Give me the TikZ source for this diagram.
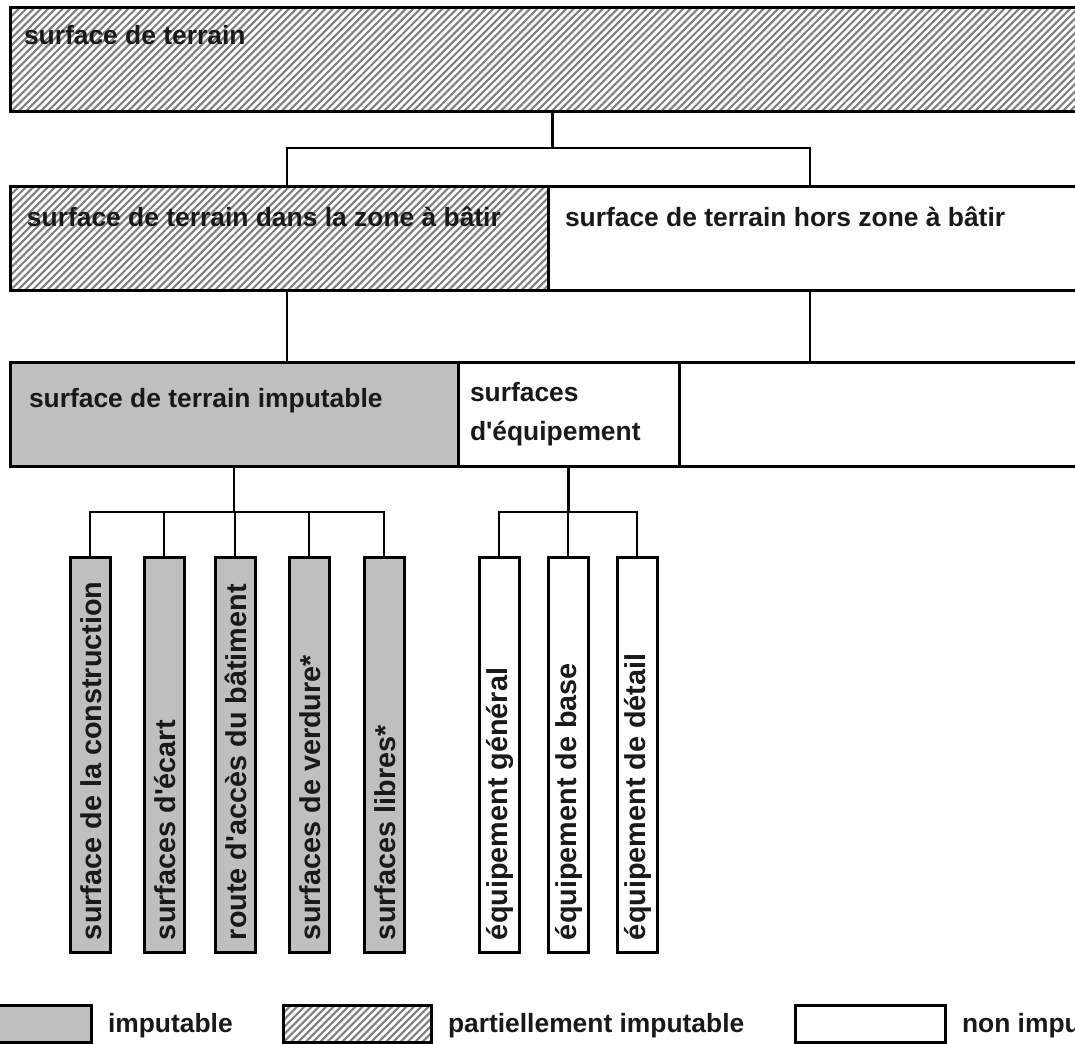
\documentclass[tikz,border=0pt]{standalone}
\usepackage{fontspec}
\setmainfont{Liberation Sans}[Ligatures=TeXOff]
\begin{document}
\begin{tikzpicture}[x=1pt,y=-1pt,
  box/.style={draw=black, line width=3pt, rectangle, inner sep=0pt, outer sep=0pt, anchor=north west},
  grayfill/.style={fill=gray!50},
  hatchline/.style={draw=black!50, line width=2.1pt},
  hatched/.style={fill=white, path picture={
      \foreach \k in {0,...,200}
        \draw[hatchline] ([xshift=\k*7.3pt-160pt]path picture bounding box.south west) -- ++(170pt,170pt);
  }},
  conn/.style={line width=2.3pt, line cap=rect},
  lbl/.style={font=\bfseries\fontsize{26.4}{39}\selectfont, inner sep=0pt, outer sep=0pt, text=black!90},
  vlbl/.style={font=\bfseries\fontsize{28.8}{34}\selectfont, inner sep=0pt, outer sep=0pt, text=black!90},
]
\useasboundingbox (0,0) rectangle (1075,1043);
\clip (0,0) rectangle (1075,1043);
\fill[white] (0,0) rectangle (1075,1043);

% level 1
\node[box, hatched, minimum width=1085pt, minimum height=104pt] (top) at (10,8) {};
\node[lbl, anchor=base west] (ttop) at (24,45) {surface de terrain};

% level 2
\node[box, hatched, minimum width=538pt, minimum height=104pt] (r2a) at (10,186) {};
\node[box, minimum width=540pt, minimum height=104pt] (r2b) at (548,186) {};
\node[lbl, anchor=base west] (tr2a) at (27,226) {surface de terrain dans la zone à bâtir};
\node[lbl, anchor=base west] (tr2b) at (565,226) {surface de terrain hors zone à bâtir};

% level 3
\node[box, grayfill, minimum width=448pt, minimum height=104pt] (r3a) at (10,362) {};
\node[box, minimum width=221pt, minimum height=104pt] (r3b) at (458,362) {};
\node[box, minimum width=410pt, minimum height=104pt] (r3c) at (679,362) {};
\node[lbl, anchor=base west] (tr3a) at (29,407) {surface de terrain imputable};
\node[lbl, anchor=base west, align=left] (tr3b) at (470,440) {surfaces\\d'équipement};

% connectors level 1 -> 2
\coordinate (a1) at (287,186);
\coordinate (a2) at (810,186);
\draw[conn] (top.south) -- ++(0,36) coordinate (h1);
\draw[conn] (a1) |- (h1) -| (a2);
% connectors level 2 -> 3
\draw[conn] (a1 |- r2a.south) -- (a1 |- r3a.north);
\draw[conn] (a2 |- r2b.south) -- (a2 |- r3c.north);

% tall boxes
\foreach \n/\cx/\f/\t in {
  t1/90/grayfill/{surface de la construction},
  t2/164/grayfill/{surfaces d'écart},
  t3/235/grayfill/{route d'accès du bâtiment},
  t4/309/grayfill/{surfaces de verdure*},
  t5/384/grayfill/{surfaces libres*},
  w1/499/{}/{équipement général},
  w2/568/{}/{équipement de base},
  w3/637/{}/{équipement de détail}}{
  \node[box, \f, anchor=north, minimum width=40pt, minimum height=395pt] (\n) at (\cx,557) {};
  \node[vlbl, rotate=90, anchor=west] (l\n) at ([xshift=1pt,yshift=12pt]\n.south) {\t};
}

% connectors level 3 -> 4
\draw[conn] (r3a.south) -- ++(0,46) coordinate (h2);
\draw[conn] (t1.north) |- (h2) -| (t5.north);
\foreach \n in {t2,t3,t4} \draw[conn] (\n.north) -- (\n.north |- h2);
\draw[conn] (r3b.south) -- ++(0,46) coordinate (h3);
\draw[conn] (w1.north) |- (h3) -| (w3.north);
\draw[conn] (w2.north) -- (w2.north |- h3);

% legend
\node[box, grayfill, minimum width=96pt, minimum height=37pt] (lg1) at (-5,1005) {};
\node[lbl, anchor=base west] (lt1) at (108,1032) {imputable};
\node[box, hatched, minimum width=148pt, minimum height=37pt] (lg2) at (283,1005) {};
\node[lbl, anchor=base west] (lt2) at (448,1032) {partiellement imputable};
\node[box, minimum width=150pt, minimum height=37pt] (lg3) at (795,1005) {};
\node[lbl, anchor=base west] (lt3) at (962,1032) {non imputable};
\end{tikzpicture}
\end{document}
